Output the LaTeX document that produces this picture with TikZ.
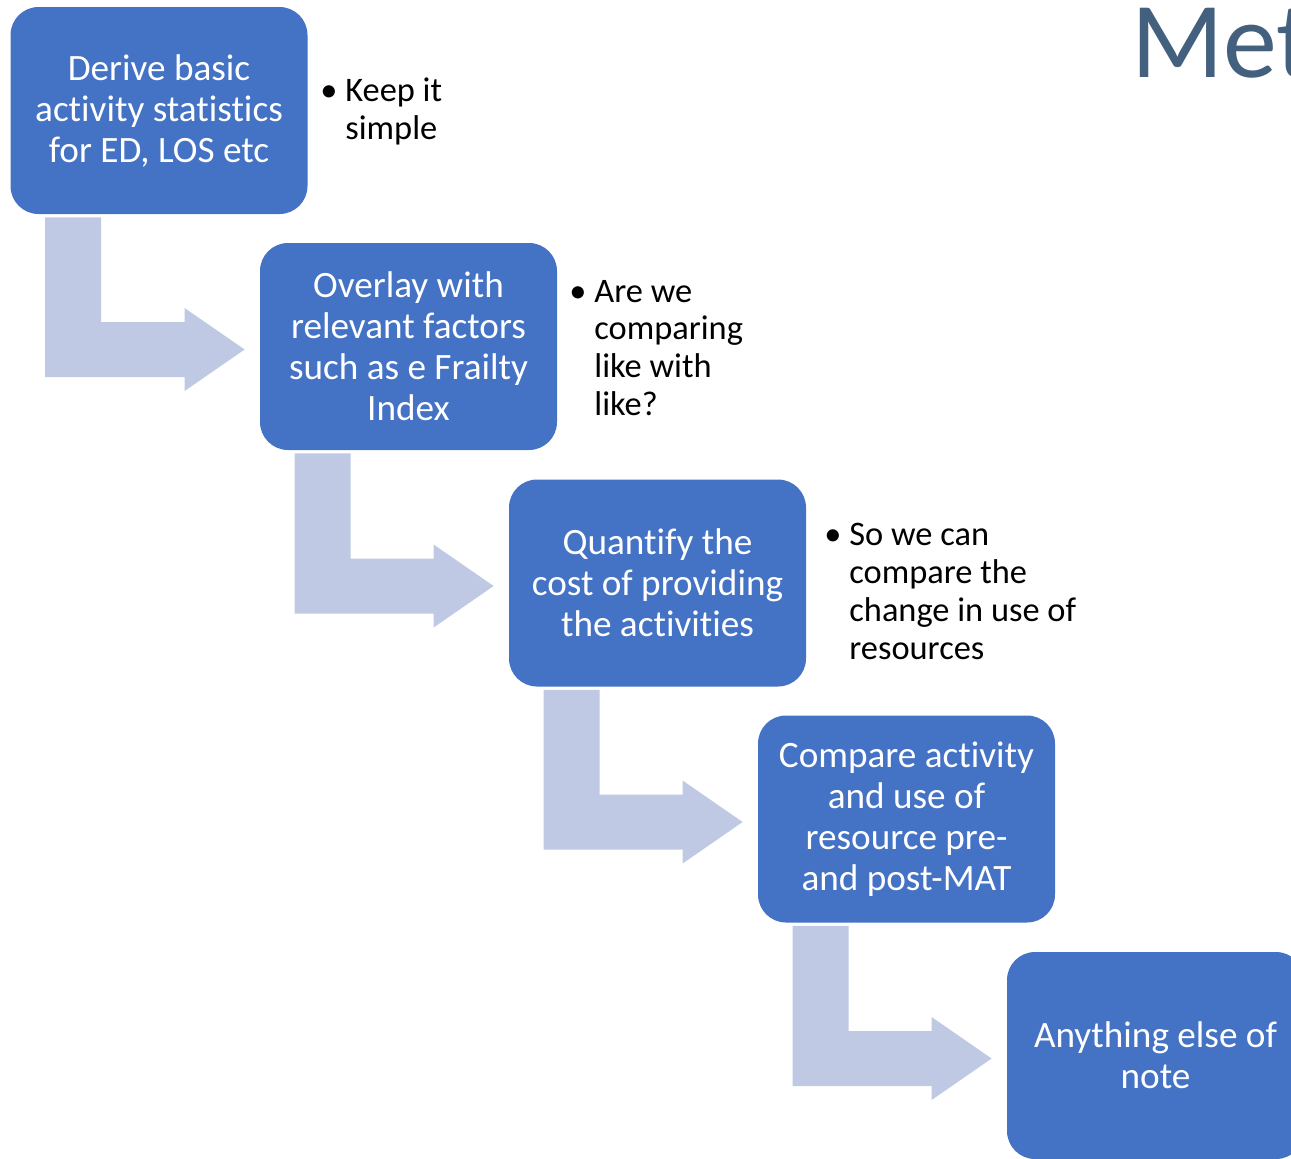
\documentclass[tikz,border=0pt]{standalone}
\usepackage{fontspec}
\setmainfont[Ligatures=CommonOff]{Carlito}
\usetikzlibrary{calc}

\definecolor{stepblue}{HTML}{4472C4}
\definecolor{flowgrey}{HTML}{BFC9E4}
\definecolor{titleblue}{HTML}{44607F}

\newcommand{\bentflow}[2]{%
  \coordinate (s) at ($(#1.south west)+(35,3)$);
  \coordinate (t) at ($(#2.west)+(-15,3)$);
  \fill[flowgrey] (s) -- ++(56,0) |- ($(t)+(-60,-27.5)$) -- ++(0,-14) -- (t)
    -- ++(-60,41.5) -- ++(0,-14) -| (s) -- cycle;
}

\begin{document}
\begin{tikzpicture}[x=0.5pt,y=-0.5pt,
  stepbox/.style={fill=stepblue, text=white, rounded corners=14pt, inner sep=0pt,
    minimum width=148.5pt, minimum height=103.5pt, align=center,
    font=\fontsize{18.6}{20.5}\selectfont},
  notetext/.style={anchor=base west, align=left, inner sep=0pt,
    font=\fontsize{17.2}{18.9}\selectfont}]

  \useasboundingbox (0,0) rectangle (1291,1158);

  \node[anchor=base west, inner sep=0pt, text=titleblue, font=\fontsize{54}{54}\selectfont] (title) at (1131,77) {Met};

  \node[stepbox] (derive) at (159,110.5) {Derive basic\\activity statistics\\for ED, LOS etc};
  \node[stepbox] (overlay) at (408.5,346.5) {Overlay with\\relevant factors\\such as e Frailty\\Index};
  \node[stepbox] (quantify) at (657.5,583) {Quantify the\\cost of providing\\the activities};
  \node[stepbox] (compare) at (906.5,819) {Compare activity\\and use of\\resource pre-\\and post-MAT};
  \node[stepbox] (anything) at (1155.5,1055.5) {Anything else of\\note};

  % base anchor sits on the last line
  \node[notetext] (simple) at (345,139.5) {\llap{•\hspace{4pt}}Keep it\\simple};
  \node[notetext] (like) at (594,415.5) {\llap{•\hspace{4pt}}Are we\\comparing\\like with\\like?};
  \node[notetext] (resources) at (849,659) {\llap{•\hspace{4pt}}So we can\\compare the\\change in use of\\resources};

  \bentflow{derive}{overlay}
  \bentflow{overlay}{quantify}
  \bentflow{quantify}{compare}
  \bentflow{compare}{anything}

\end{tikzpicture}
\end{document}
